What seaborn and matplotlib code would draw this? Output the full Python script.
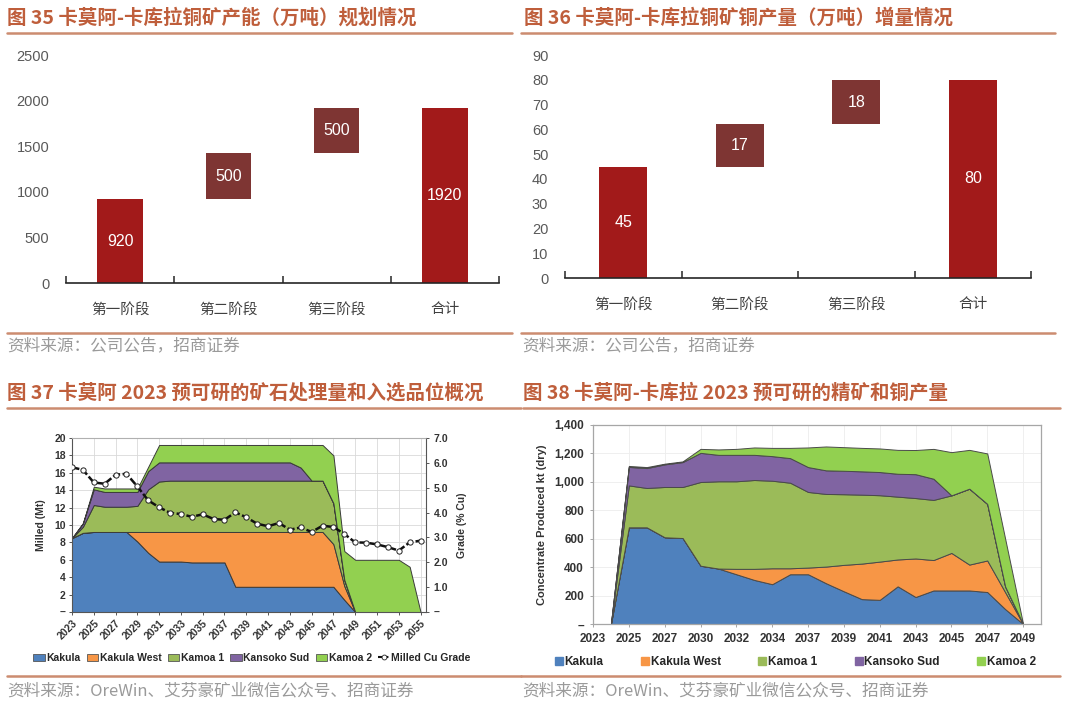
import numpy as np
import pandas as pd
import matplotlib
matplotlib.use("Agg")
import matplotlib.pyplot as plt
import seaborn as sns
from matplotlib.patches import Patch
from matplotlib.lines import Line2D
from matplotlib.font_manager import FontProperties

# ---------------- data ----------------
stages = ["第一阶段", "第二阶段", "第三阶段", "合计"]
capacity_values = [920, 500, 500, 1920]
capacity_bases = [0, 920, 1420, 0]
copper_values = [45, 17, 18, 80]
copper_bases = [0, 45, 62, 0]

milled_years = list(range(2023, 2056))
milled_kakula = [8.5, 9.1, 9.2, 9.2, 9.2, 9.2, 8.1, 6.8, 5.8, 5.8, 5.8, 5.7, 5.7, 5.7, 5.7,
                 2.9, 2.9, 2.9, 2.9, 2.9, 2.9, 2.9, 2.9, 2.9, 2.9, 1.4,
                 0, 0, 0, 0, 0, 0, 0]
milled_kakula_west = [0, 0, 0, 0, 0, 0, 1.1, 2.4, 3.4, 3.4, 3.4, 3.5, 3.5, 3.5, 3.5,
                      6.3, 6.3, 6.3, 6.3, 6.3, 6.3, 6.3, 6.3, 6.3, 4.9, 1.6,
                      0, 0, 0, 0, 0, 0, 0]
milled_kamoa1 = [0, 0.7, 3.1, 2.9, 2.9, 2.9, 3.0, 4.9, 5.8,
                 5.9, 5.9, 5.9, 5.9, 5.9, 5.9, 5.9, 5.9, 5.9, 5.9, 5.9, 5.9, 5.9, 5.9, 5.9,
                 4.7, 0.7, 0, 0, 0, 0, 0, 0, 0]
milled_kansoko = [0, 0.4, 1.8, 1.7, 1.7, 1.7, 1.6, 2.1, 2.2,
                  2.1, 2.1, 2.1, 2.1, 2.1, 2.1, 2.1, 2.1, 2.1, 2.1, 2.1, 2.1,
                  1.5, 0, 0, 0, 0, 0, 0, 0, 0, 0, 0, 0]
milled_kamoa2 = [0, 0, 0.3, 0.4, 0.4, 0.4, 0.4, 0.5,
                 2.0, 2.0, 2.0, 2.0, 2.0, 2.0, 2.0, 2.0, 2.0, 2.0, 2.0, 2.0, 2.0,
                 2.6, 4.1, 4.1, 5.5, 3.3, 6.0, 6.0, 6.0, 6.0, 6.0, 5.2, 0]
milled_grade = [5.82, 5.72, 5.21, 5.16, 5.52, 5.56, 5.05, 4.49, 4.21, 3.99, 3.94, 3.83,
                3.93, 3.74, 3.71, 4.01, 3.81, 3.55, 3.45, 3.58, 3.31, 3.40, 3.22, 3.47,
                3.42, 3.14, 2.80, 2.79, 2.72, 2.61, 2.47, 2.80, 2.87]
milled_tick_years = list(range(2023, 2056, 2))

conc_positions = list(range(1, 25))
conc_tick_labels = ["2023", "2025", "2027", "2030", "2032", "2034", "2037",
                    "2039", "2041", "2043", "2045", "2047", "2049"]
conc_kakula = [0, 680, 680, 610, 605, 410, 390, 350, 310, 280, 350, 350,
               287, 230, 175, 170, 265, 190, 236, 236, 236, 225, 105, 0]
conc_kakula_west = [0, 0, 0, 0, 0, 0, 0, 38, 78, 112, 42, 47,
                    117, 186, 250, 269, 189, 271, 214, 264, 182, 222, 119, 0]
conc_kamoa1 = [0, 295, 277, 354, 359, 589, 614, 616, 625, 616, 602, 532,
               511, 497, 485, 467, 442, 425, 423, 405, 534, 398, 40, 0]
conc_kansoko = [0, 130, 140, 159, 175, 205, 186, 186, 177, 173, 173, 175,
                166, 165, 164, 163, 161, 168, 149, 0, 0, 0, 0, 0]
conc_kamoa2 = [0, 7, 7, 5, 5, 28, 38, 42, 52, 58, 72, 138,
               168, 166, 165, 166, 168, 170, 210, 304, 273, 355, 336, 0]

series_names = ["Kakula", "Kakula West", "Kamoa 1", "Kansoko Sud", "Kamoa 2"]
series_colors = ["#4F81BD", "#F79646", "#9BBB59", "#8064A2", "#92D050"]

# ---------------- style ----------------
sns.set_theme(style="white")
plt.rcParams['font.family'] = ['Noto Sans CJK SC', 'DejaVu Sans']
plt.rcParams['axes.unicode_minus'] = False

W, H = 1069, 709
fig = plt.figure(figsize=(W / 100, H / 100), dpi=100)


def rect(x0, y0, x1, y1):
    return [x0 / W, 1 - y1 / H, (x1 - x0) / W, (y1 - y0) / H]


def fx(x):
    return x / W


def fy(y):
    return 1 - y / H


TITLE_C = "#BF5E3B"
LINE_C = "#CC8C70"
SRC_C = "#9A9A9A"
RED = "#A21A1A"
MAROON = "#7E3533"
ENG = "Liberation Sans"

# ---------------- headers / footers ----------------
def header(x, y, text):
    fig.text(fx(x), fy(y), text, fontsize=14, fontweight="bold", color=TITLE_C,
             ha="left", va="center", family=["Noto Sans CJK SC", "DejaVu Sans"])


def hline(x0, x1, y, lw=1.8):
    fig.add_artist(Line2D([fx(x0), fx(x1)], [fy(y), fy(y)], color=LINE_C, lw=lw,
                          transform=fig.transFigure))


def source(x, y, text):
    fig.text(fx(x), fy(y), text, fontsize=12, color=SRC_C, ha="left", va="center",
             family=["Noto Sans CJK SC", "DejaVu Sans"])


header(7, 18, "图 35 卡莫阿-卡库拉铜矿产能（万吨）规划情况")
header(524, 18, "图 36 卡莫阿-卡库拉铜矿铜产量（万吨）增量情况")
header(7, 393, "图 37 卡莫阿 2023 预可研的矿石处理量和入选品位概况")
header(523, 393, "图 38 卡莫阿-卡库拉 2023 预可研的精矿和铜产量")
hline(7, 512, 33)
hline(521, 1055, 33)
hline(7, 512, 333)
hline(521, 1055, 333)
hline(7, 521, 408)
hline(523, 1060, 408)
hline(7, 521, 676)
hline(521, 1060, 676)
source(7, 346, "资料来源：公司公告，招商证券")
source(522, 346, "资料来源：公司公告，招商证券")
source(7, 691, "资料来源：OreWin、艾芬豪矿业微信公众号、招商证券")
source(522, 691, "资料来源：OreWin、艾芬豪矿业微信公众号、招商证券")


# ---------------- waterfall panels ----------------
def waterfall(box, values, bases, ymax, ystep, width):
    ax = fig.add_axes(rect(*box))
    df = pd.DataFrame({"stage": stages, "value": values})
    sns.barplot(data=df, x="stage", y="value", ax=ax, bottom=bases, width=width,
                color=RED, saturation=1, errorbar=None, linewidth=0)
    colors = [RED, MAROON, MAROON, RED]
    for p, c in zip(ax.patches, colors):
        p.set_facecolor(c)
        p.set_edgecolor(c)
    for i, (v, b) in enumerate(zip(values, bases)):
        ax.text(i, b + v / 2, f"{v}", ha="center", va="center", color="white",
                fontsize=11.5, family=[ENG])
    ax.set_xlim(-0.5, 3.5)
    ax.set_ylim(0, ymax)
    ax.set_yticks(np.arange(0, ymax + 1, ystep))
    ax.set_xlabel("")
    ax.set_ylabel("")
    for s in ["left", "top", "right"]:
        ax.spines[s].set_visible(False)
    ax.spines["bottom"].set_color("#262626")
    ax.spines["bottom"].set_linewidth(1.2)
    ax.set_xticks([-0.5, 0.5, 1.5, 2.5, 3.5], minor=True)
    ax.tick_params(axis="x", which="minor", direction="in", length=5, width=1.1,
                   color="#262626", bottom=True)
    ax.tick_params(axis="x", which="major", length=0, pad=14)
    ax.tick_params(axis="y", length=0, pad=12)
    for t in ax.get_yticklabels():
        t.set_fontfamily(ENG)
        t.set_fontsize(10.5)
        t.set_color("#595959")
    for t in ax.get_xticklabels():
        t.set_fontsize(10.5)
        t.set_color("#404040")
    ax.set_facecolor("white")
    return ax


waterfall((66, 55, 499, 283), capacity_values, capacity_bases, 2500, 500, 0.42)
waterfall((565, 55, 1031, 278), copper_values, copper_bases, 90, 10, 0.41)

# ---------------- milled panel ----------------
bold_eng = FontProperties(family=ENG, weight="bold", size=7.5)
ax3 = fig.add_axes(rect(72, 438, 426, 612))
ax3.stackplot(milled_years, milled_kakula, milled_kakula_west, milled_kamoa1,
              milled_kansoko, milled_kamoa2, colors=series_colors,
              edgecolor="#3a3a3a", linewidth=0.7)
ax3.set_xlim(2023, 2055.5)
ax3.set_ylim(0, 20)
ax3.set_yticks(range(0, 21, 2))
ax3.set_yticklabels(["–"] + [str(v) for v in range(2, 21, 2)])
ax3.set_xticks(milled_tick_years)
ax3.set_xticklabels([str(y) for y in milled_tick_years], rotation=45, ha="right",
                    rotation_mode="anchor")
ax3.grid(True, color="#D9D9D9", lw=0.6)
ax3.set_axisbelow(True)
ax3.spines["top"].set_color("#B0B0B0")
for s in ["left", "bottom", "right"]:
    ax3.spines[s].set_color("#555555")
for s in ax3.spines.values():
    s.set_linewidth(0.8)
ax3.tick_params(axis="both", length=2.5, width=0.7, color="#555555", pad=2,
                left=True, bottom=True)
for t in ax3.get_xticklabels() + ax3.get_yticklabels():
    t.set_fontproperties(bold_eng)
    t.set_color("#333333")
ax3.set_ylabel("Milled (Mt)", fontproperties=bold_eng, color="#333333", labelpad=6)

ax3b = ax3.twinx()
sns.lineplot(x=milled_years, y=milled_grade, ax=ax3b, color="#111111", lw=1.8,
             linestyle=(0, (3, 1)), marker="o", markersize=3.8,
             markerfacecolor="white", markeredgecolor="#222222",
             markeredgewidth=0.7, legend=False)
ax3b.set_ylim(0, 7)
ax3b.set_yticks(range(0, 8))
ax3b.set_yticklabels(["–"] + [f"{v:.1f}" for v in range(1, 8)])
ax3b.set_xlim(2023, 2055.5)
ax3b.grid(False)
for s in ax3b.spines.values():
    s.set_visible(False)
ax3b.tick_params(axis="y", length=2.5, width=0.7, color="#555555", pad=3, right=True)
for t in ax3b.get_yticklabels():
    t.set_fontproperties(bold_eng)
    t.set_color("#333333")
ax3b.set_ylabel("Grade (% Cu)", fontproperties=bold_eng, color="#333333", labelpad=6)

handles3 = [Patch(facecolor=c, edgecolor="#555555", lw=0.6) for c in series_colors]
handles3.append(Line2D([], [], color="#111111", lw=1.5, ls=(0, (2, 1)), marker="o",
                       markersize=3.5, markerfacecolor="white",
                       markeredgecolor="#222222", markeredgewidth=0.6))
fig.legend(handles3, series_names + ["Milled Cu Grade"], loc="center",
           bbox_to_anchor=(fx(252), fy(658)), ncol=6, frameon=False,
           prop=bold_eng, handlelength=1.1, handleheight=0.7, handletextpad=0.15,
           columnspacing=0.6, borderpad=0)

# ---------------- concentrate panel ----------------
bold_eng2 = FontProperties(family=ENG, weight="bold", size=8.5)
ax4 = fig.add_axes(rect(593, 425, 1041, 624))
ax4.stackplot(conc_positions, conc_kakula, conc_kakula_west, conc_kamoa1,
              conc_kansoko, conc_kamoa2, colors=series_colors,
              edgecolor="#4a4a4a", linewidth=0.7)
ax4.set_xlim(0, 25)
ax4.set_ylim(0, 1400)
ax4.set_yticks(range(0, 1401, 200))
ax4.set_yticklabels(["–"] + [f"{v:,}" for v in range(200, 1401, 200)])
ax4.set_xticks(range(0, 25, 2))
ax4.set_xticklabels(conc_tick_labels)
ax4.grid(True, color="#EDEDED", lw=0.6)
ax4.set_axisbelow(True)
for s in ax4.spines.values():
    s.set_color("#A6A6A6")
    s.set_linewidth(0.9)
ax4.tick_params(axis="both", length=2.5, width=0.7, color="#A6A6A6", pad=4,
                left=True, bottom=True)
for t in ax4.get_xticklabels() + ax4.get_yticklabels():
    t.set_fontproperties(bold_eng2)
    t.set_color("#333333")
ax4.set_ylabel("Concentrate Produced kt (dry)",
               fontproperties=FontProperties(family=ENG, weight="bold", size=8),
               color="#333333", labelpad=5)

handles4 = [Line2D([], [], ls="", marker="s", markersize=5.5, color=c) for c in series_colors]
fig.legend(handles4, series_names, loc="center left",
           bbox_to_anchor=(fx(555), fy(662)), ncol=5, frameon=False,
           prop=bold_eng2, handlelength=0.6, handletextpad=0.2,
           columnspacing=3.2, borderpad=0, borderaxespad=0)

fig.savefig("out.png", dpi=100, facecolor="white")
